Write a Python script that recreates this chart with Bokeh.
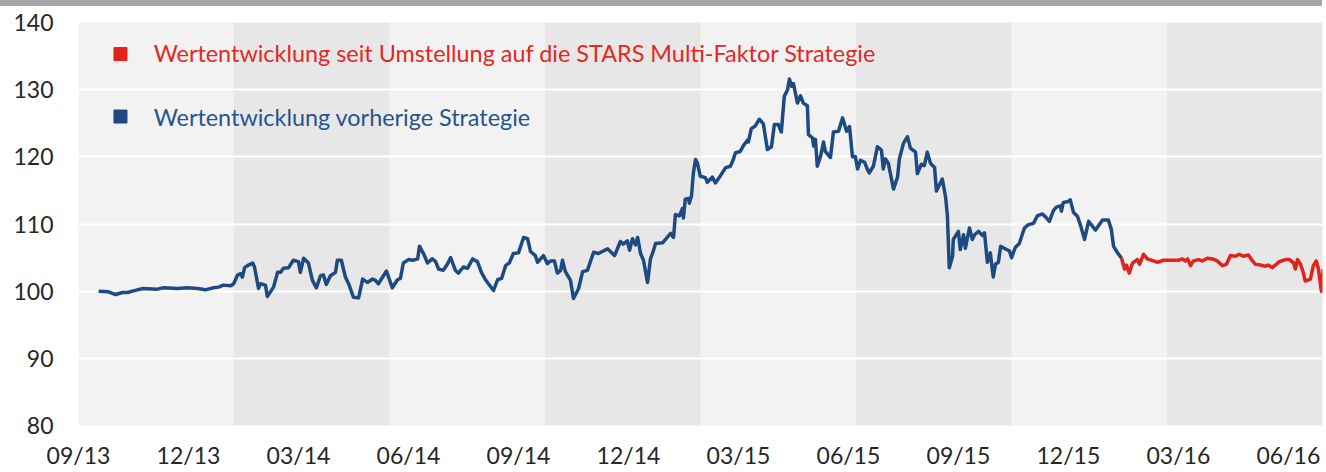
from bokeh.plotting import figure
from bokeh.models import BoxAnnotation, FixedTicker, Label, Div
from bokeh.layouts import column
from bokeh.embed import file_html
from bokeh.resources import INLINE

# x values: months since the 09/13 tick
tick_months = [0, 3, 6, 9, 12, 15, 18, 21, 24, 27, 30, 33]
tick_labels = ["09/13", "12/13", "03/14", "06/14", "09/14", "12/14",
               "03/15", "06/15", "09/15", "12/15", "03/16", "06/16"]
y_ticks = [80, 90, 100, 110, 120, 130, 140]

prev_x = [0.55, 0.82, 1.01, 1.20, 1.34, 1.47, 1.61, 1.77, 2.15, 2.32, 2.70, 2.97, 3.25, 3.46,
          3.68, 3.82, 3.95, 4.15, 4.23, 4.34, 4.42, 4.47, 4.53, 4.61, 4.75, 4.80, 4.91, 4.96,
          5.10, 5.15, 5.32, 5.43, 5.51, 5.59, 5.73, 5.86, 6.00, 6.05, 6.14, 6.27, 6.38, 6.49,
          6.60, 6.68, 6.76, 6.87, 7.01, 7.06, 7.17, 7.28, 7.39, 7.50, 7.64, 7.75, 7.88, 8.02,
          8.10, 8.18, 8.40, 8.56, 8.70, 8.78, 8.86, 9.00, 9.11, 9.25, 9.30, 9.41, 9.52, 9.65,
          9.74, 9.82, 9.95, 10.06, 10.15, 10.28, 10.36, 10.50, 10.61, 10.75, 10.88, 10.99,
          11.10, 11.18, 11.32, 11.43, 11.54, 11.65, 11.75, 11.86, 12.00, 12.14, 12.25, 12.33,
          12.46, 12.52, 12.68, 12.79, 12.87, 12.98, 13.06, 13.15, 13.20, 13.28, 13.42, 13.50,
          13.64, 13.75, 13.88, 14.05, 14.18, 14.43, 14.62, 14.78, 14.86, 14.97, 15.03, 15.11,
          15.19, 15.25, 15.33, 15.41, 15.52, 15.60, 15.68, 15.74, 15.93, 16.01, 16.15, 16.23,
          16.28, 16.39, 16.47, 16.50, 16.55, 16.64, 16.66, 16.72, 16.77, 16.83, 16.88, 16.96,
          17.10, 17.15, 17.29, 17.37, 17.51, 17.65, 17.78, 17.86, 17.92, 18.05, 18.14, 18.25,
          18.27, 18.35, 18.46, 18.57, 18.68, 18.79, 18.90, 18.98, 19.09, 19.17, 19.25, 19.34,
          19.39, 19.45, 19.50, 19.61, 19.69, 19.77, 19.88, 19.91, 20.02, 20.05, 20.10, 20.15,
          20.24, 20.32, 20.37, 20.51, 20.59, 20.73, 20.84, 20.95, 21.03, 21.11, 21.19, 21.25,
          21.33, 21.44, 21.52, 21.57, 21.68, 21.79, 21.90, 21.95, 22.01, 22.09, 22.23, 22.34,
          22.39, 22.50, 22.61, 22.69, 22.83, 22.88, 22.99, 23.07, 23.15, 23.24, 23.35, 23.40,
          23.56, 23.65, 23.70, 23.75, 23.84, 23.86, 24.00, 24.05, 24.14, 24.19, 24.30, 24.38,
          24.44, 24.55, 24.65, 24.71, 24.79, 24.87, 24.95, 25.01, 25.09, 25.15, 25.31, 25.39,
          25.45, 25.55, 25.66, 25.80, 25.91, 26.05, 26.15, 26.29, 26.37, 26.48, 26.59, 26.67,
          26.78, 26.81, 26.86, 26.97, 27.05, 27.14, 27.25, 27.33, 27.44, 27.55, 27.74, 27.93,
          28.09, 28.17, 28.23, 28.34, 28.45]
prev_y = [100.0, 99.9, 99.5, 99.8, 99.8, 100.0, 100.2, 100.4, 100.3, 100.5, 100.4, 100.5, 100.4, 100.2,
          100.5, 100.6, 100.9, 100.8, 101.1, 102.4, 102.6, 102.1, 103.5, 103.8, 104.2, 103.6, 100.4, 101.1,
          100.9, 99.2, 100.6, 102.8, 102.8, 103.4, 103.5, 104.6, 104.4, 102.8, 104.9, 104.2, 101.6, 100.5,
          102.3, 102.4, 101.0, 102.3, 102.8, 104.6, 104.6, 102.1, 100.8, 99.1, 99.0, 101.8, 101.3, 101.8,
          101.6, 101.1, 103.0, 100.5, 101.7, 101.9, 104.2, 104.7, 104.6, 104.8, 106.7, 105.6, 104.2, 104.8,
          104.4, 103.3, 103.1, 104.0, 105.0, 103.1, 102.7, 103.6, 103.4, 104.8, 104.4, 102.8,
          101.7, 101.1, 100.1, 101.7, 101.9, 103.8, 104.2, 105.6, 105.7, 108.0, 107.8, 105.9,
          105.3, 104.3, 105.3, 104.1, 104.5, 104.5, 102.7, 103.1, 104.6, 102.9, 101.6, 98.9,
          100.4, 102.9, 103.1, 105.8, 105.6, 106.3, 105.3, 107.4, 107.0, 107.5, 106.1, 107.8,
          106.9, 108.0, 105.6, 104.6, 101.3, 104.8, 106.0, 107.1, 107.2, 107.7, 108.6, 108.0,
          111.4, 111.2, 112.3, 110.9, 113.7, 113.8, 113.1, 114.2, 117.6, 119.6, 119.1, 117.1,
          116.9, 116.2, 117.0, 116.1, 117.2, 118.4, 118.6, 119.6, 120.6, 120.8, 121.7, 122.5,
          122.2, 124.2, 124.6, 125.6, 124.9, 121.1, 121.5, 124.8, 124.8, 123.7, 129.0, 130.0,
          131.6, 130.5, 130.9, 128.0, 129.1, 128.0, 127.6, 123.3, 122.8, 121.6, 122.6, 118.6,
          120.1, 122.2, 120.8, 119.9, 123.7, 123.8, 125.8, 123.8, 124.5, 120.0, 120.0, 118.2,
          119.5, 119.2, 118.1, 117.6, 118.6, 121.5, 121.0, 118.2, 119.7, 119.0, 115.2, 117.0,
          119.7, 122.0, 123.0, 121.3, 120.7, 117.5, 118.9, 118.7, 120.7, 119.0, 118.4, 114.9,
          116.7, 114.0, 111.2, 103.5, 105.2, 107.7, 108.9, 106.2, 108.4, 106.4, 109.4, 107.7,
          108.4, 108.9, 108.3, 108.7, 104.3, 105.7, 102.1, 104.0, 104.3, 106.7, 106.2, 106.0,
          105.0, 106.5, 107.1, 109.4, 109.9, 110.1, 111.2, 111.5, 111.1, 110.4, 112.0, 112.5,
          112.7, 111.9, 113.2, 113.3, 113.6, 111.7, 111.1, 109.8, 107.7, 110.4, 109.1, 110.6,
          110.6, 109.2, 106.7, 105.7, 104.9]

stars_x = [28.45, 28.53, 28.58, 28.66, 28.75, 28.88, 28.94, 29.05, 29.15, 29.32, 29.43, 29.59,
           30.00, 30.11, 30.19, 30.25, 30.33, 30.41, 30.55, 30.65, 30.79, 30.93, 31.06, 31.20,
           31.31, 31.42, 31.55, 31.66, 31.77, 31.91, 32.02, 32.10, 32.24, 32.37, 32.45, 32.56,
           32.65, 32.75, 32.92, 33.03, 33.14, 33.19, 33.25, 33.33, 33.41, 33.46, 33.60, 33.68,
           33.76, 33.82, 33.90, 33.95]
stars_y = [104.9, 103.3, 103.9, 102.7, 104.2, 104.7, 104.0, 105.5, 104.8, 104.5, 104.3, 104.6,
           104.6, 104.8, 104.5, 104.8, 103.8, 104.5, 104.7, 104.5, 104.9, 104.8, 104.5, 103.8,
           104.0, 105.3, 105.2, 105.5, 105.2, 105.4, 104.5, 104.0, 103.9, 103.7, 103.9, 103.5,
           103.9, 104.4, 104.7, 104.7, 104.2, 103.3, 104.7, 104.0, 102.7, 101.5, 101.8, 103.8,
           104.5, 103.3, 100.0, 103.3]

legend_labels = ["Wertentwicklung seit Umstellung auf die STARS Multi-Faktor Strategie",
                 "Wertentwicklung vorherige Strategie"]

RED = "#e2231a"
BLUE = "#1d4a80"
FONT = "Lato"

X_END = 33.93
p = figure(width=1326, height=466, output_backend="svg", toolbar_location=None,
           x_range=(0, X_END), y_range=(80, 140),
           min_border_left=78, min_border_right=4, min_border_top=16, min_border_bottom=47)
p.outline_line_color = None
p.background_fill_color = "#f2f2f2"
p.border_fill_color = "white"

n_bands = 8
w = X_END / n_bands
for i in range(1, n_bands, 2):
    p.add_layout(BoxAnnotation(left=i * w, right=(i + 1) * w, fill_color="#e7e7e7",
                               fill_alpha=1, line_alpha=0, level="image"))

p.xgrid.visible = False
p.ygrid.ticker = FixedTicker(ticks=y_ticks)
p.ygrid.grid_line_color = "white"
p.ygrid.grid_line_width = 2

p.line(prev_x, prev_y, line_color=BLUE, line_width=3.5, line_join="round")
p.line(stars_x, stars_y, line_color=RED, line_width=3.5, line_join="round")

# legend
p.scatter([1.145], [135.3], marker="square", size=13, color=RED)
p.scatter([1.145], [126.0], marker="square", size=13, color="#1f4a80")
p.add_layout(Label(x=2.05, y=135.4, text=legend_labels[0], text_font=FONT, text_font_size="23.4px",
                   text_color="#e5271f", text_baseline="middle"))
p.add_layout(Label(x=2.05, y=126.0, text=legend_labels[1], text_font=FONT, text_font_size="23.4px",
                   text_color="#25548f", text_baseline="middle"))

for ax in (p.xaxis[0], p.yaxis[0]):
    ax.axis_line_color = None
    ax.major_tick_line_color = None
    ax.minor_tick_line_color = None
    ax.major_tick_out = 0
    ax.major_tick_in = 0
    ax.major_label_text_font = FONT
    ax.major_label_text_font_size = "23px"
    ax.major_label_text_color = "#262626"

p.yaxis.ticker = FixedTicker(ticks=y_ticks)
p.yaxis.major_label_standoff = 25
p.xaxis.ticker = FixedTicker(ticks=tick_months)
p.xaxis.major_label_overrides = {m: lab for m, lab in zip(tick_months, tick_labels)}
p.xaxis.major_label_standoff = 15

bar = Div(text="", width=1322, height=6, margin=0,
          styles={"background-color": "#a6a7ab"})

layout = column(bar, p, spacing=0)
open("out.html", "w").write(file_html(layout, INLINE))
